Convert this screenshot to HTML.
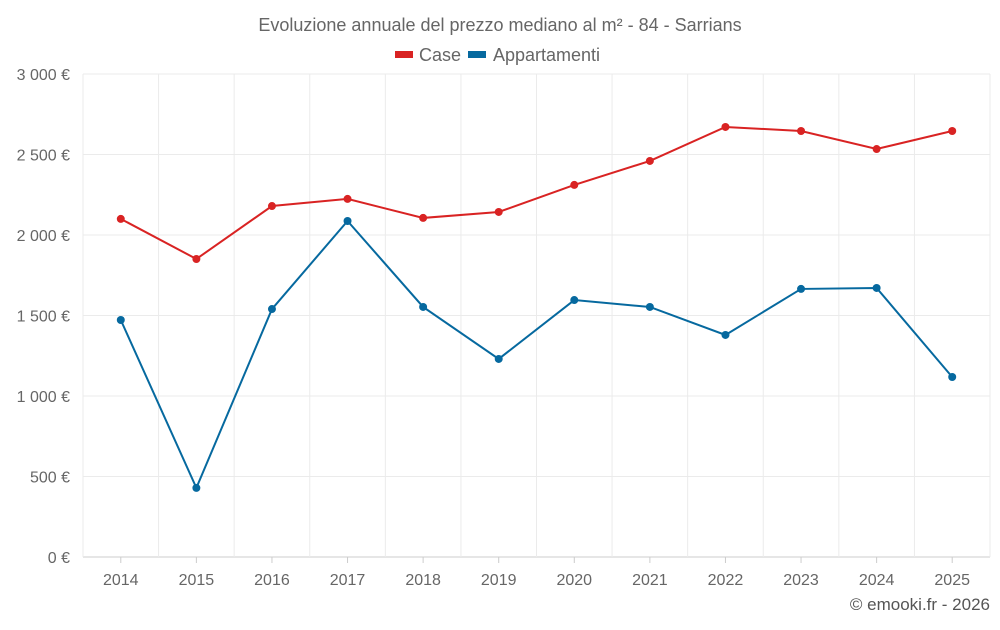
<!DOCTYPE html>
<html><head><meta charset="utf-8"><style>
body{margin:0;background:#fff;font-family:"Liberation Sans",sans-serif}
svg text{font-family:"Liberation Sans",sans-serif}
</style></head><body>
<svg id="c" width="1000" height="625">
<text x="500" y="31" text-anchor="middle" font-size="18" fill="#666">Evoluzione annuale del prezzo mediano al m² - 84 - Sarrians</text>
<g>
<g><rect x="395" y="51" width="18" height="7" fill="#d92323"/><text x="419" y="61" font-size="18" fill="#666">Case</text></g>
<g><rect x="468" y="51" width="18" height="7" fill="#06699f"/><text x="493" y="61" font-size="18" fill="#666">Appartamenti</text></g>
</g>
<g id="grid"></g><g id="axes"></g><g id="series"></g>
<text x="990" y="610" text-anchor="end" font-size="17" fill="#555">© emooki.fr - 2026</text>
</svg>
<script>
const years=["2014","2015","2016","2017","2018","2019","2020","2021","2022","2023","2024","2025"];
const caseVals=[2100,1851,2180,2224,2106,2143,2311,2460,2671,2646,2534,2646];
const appVals=[1472,429,1540,2087,1553,1230,1596,1553,1379,1665,1671,1118];
const yTicks=[0,500,1000,1500,2000,2500,3000];
const yLabels=["0 €","500 €","1 000 €","1 500 €","2 000 €","2 500 €","3 000 €"];
const NS="http://www.w3.org/2000/svg";
const x0=83,x1=990,yTop=74,yBot=557;
const step=(x1-x0)/years.length;
const xs=i=>x0+step*(i+0.5);
const ys=v=>yBot-(v/3000)*(yBot-yTop);
function mk(t,a,p){const e=document.createElementNS(NS,t);for(const k in a)e.setAttribute(k,a[k]);p.appendChild(e);return e;}
const grid=document.getElementById('grid'),axes=document.getElementById('axes'),ser=document.getElementById('series');
yTicks.forEach((v,i)=>{
 const l=mk('line',{x1:x0,x2:x1,y1:ys(v),y2:ys(v),stroke:i==0?'#ccc':'#ebebeb'},grid);
 
 
 const t=mk('text',{x:70,y:ys(v)+6,'text-anchor':'end','font-size':16,fill:'#666'},axes);
 t.textContent=yLabels[i];
 
 
});
for(let i=0;i<=years.length;i++){
 const l=mk('line',{x1:x0+step*i,x2:x0+step*i,y1:yTop,y2:yBot,stroke:'#ebebeb'},grid);
 
 
}
years.forEach((y,i)=>{
 const tk=mk('line',{x1:xs(i),x2:xs(i),y1:yBot,y2:yBot+6,stroke:'#ccc'},axes);
 
 
 const t=mk('text',{x:xs(i),y:585,'text-anchor':'middle','font-size':16,fill:'#666'},axes);
 t.textContent=y;
 
 
});
function draw(vals,color,name){
 const p=mk('polyline',{points:vals.map((v,i)=>xs(i)+','+ys(v)).join(' '),fill:'none',stroke:color,'stroke-width':2},ser);
 
 
 vals.forEach((v,i)=>{
  const c=mk('circle',{cx:xs(i),cy:ys(v),r:4,fill:color},ser);
  
  
 });
}
draw(caseVals,'#d92323','case');
draw(appVals,'#06699f','appartamenti');
</script>
</body></html>
